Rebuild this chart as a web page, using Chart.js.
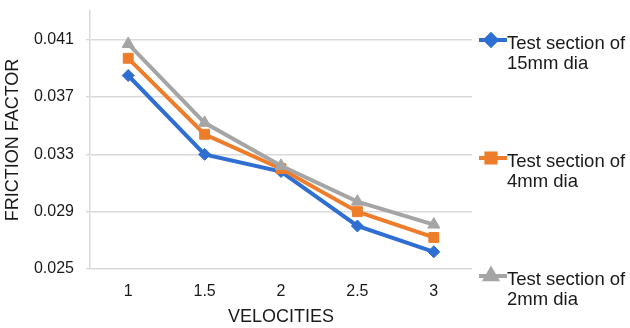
<!DOCTYPE html>
<html>
<head>
<meta charset="utf-8">
<script src="https://cdn.jsdelivr.net/npm/chart.js@4/dist/chart.umd.min.js"></script>
<style>
  html, body { margin: 0; padding: 0; background: #fff; }
  #wrap { width: 630px; height: 328px; position: relative; }
</style>
</head>
<body>
<div id="wrap"><canvas id="c" width="630" height="328"></canvas></div>
<script>
// Velocities on the category axis
const velocities = ['1', '1.5', '2', '2.5', '3'];

// Friction factor per test section
const dia15mm = [0.0385, 0.0330, 0.0318, 0.0280, 0.0262];
const dia4mm  = [0.0397, 0.0344, 0.0320, 0.0290, 0.0272];
const dia2mm  = [0.0407, 0.0352, 0.0322, 0.0297, 0.0281];

// Series names, split over two lines for the side legend
const seriesNames = [
  ['Test section of', '15mm dia'],
  ['Test section of', '4mm dia'],
  ['Test section of', '2mm dia']
];

// Value-axis tick marks
const yTicks = [0.025, 0.029, 0.033, 0.037, 0.041];

const FONT = '"Liberation Sans", Arial, Helvetica, sans-serif';
const GRID = '#d9d9d9';
const TEXT = '#1a1a1a';

const styles = [
  { color: '#2f6fd2', point: 'rectRot',  radius: 6, order: 2 },
  { color: '#ee7d2b', point: 'rect',     radius: 7, order: 1 },
  { color: '#a5a5a5', point: 'triangle', radius: 7, order: 0 }
];

const seriesData = [dia15mm, dia4mm, dia2mm];

const datasets = seriesData.map((d, i) => ({
  label: seriesNames[i].join(' '),
  data: d,
  borderColor: styles[i].color,
  backgroundColor: styles[i].color,
  pointBackgroundColor: styles[i].color,
  pointBorderColor: styles[i].color,
  pointStyle: styles[i].point,
  pointRadius: styles[i].radius,
  pointBorderWidth: 1,
  borderWidth: 4,
  tension: 0,
  order: styles[i].order
}));

// Legend on the right, one entry per series with a line + marker sample
const sideLegend = {
  id: 'sideLegend',
  afterDraw(chart) {
    const ctx = chart.ctx;
    const area = chart.chartArea;
    const x0 = 479, x1 = 507, xm = 491;
    chart.data.datasets.forEach((ds, i) => {
      const y = area.top + 29 + i * 118;
      ctx.save();
      ctx.strokeStyle = ds.borderColor;
      ctx.lineWidth = 4;
      ctx.beginPath();
      ctx.moveTo(x0, y);
      ctx.lineTo(x1, y);
      ctx.stroke();
      ctx.fillStyle = ds.borderColor;
      ctx.strokeStyle = ds.borderColor;
      Chart.helpers.drawPoint(ctx, {
        pointStyle: ds.pointStyle,
        rotation: 0,
        radius: ds.pointRadius - 0.5,
        borderWidth: 1
      }, xm, y);
      ctx.fillStyle = TEXT;
      ctx.font = '18.5px ' + FONT;
      ctx.textAlign = 'left';
      ctx.textBaseline = 'middle';
      seriesNames[i].forEach((line, k) => {
        ctx.fillText(line, x1, y + 4 + k * 20);
      });
      ctx.restore();
    });
  }
};

new Chart(document.getElementById('c'), {
  type: 'line',
  data: { labels: velocities, datasets },
  plugins: [sideLegend],
  options: {
    responsive: false,
    animation: false,
    devicePixelRatio: 1,
    layout: { padding: { top: 11, right: 158, left: 0, bottom: 0 } },
    plugins: {
      legend: { display: false },
      tooltip: { enabled: false }
    },
    scales: {
      x: {
        offset: true,
        grid: { display: false, drawTicks: false },
        border: { display: false },
        ticks: {
          color: TEXT,
          font: { family: FONT, size: 16 },
          padding: 13,
          maxRotation: 0
        },
        title: {
          display: true,
          text: 'VELOCITIES',
          color: TEXT,
          font: { family: FONT, size: 18 },
          padding: { top: 0, bottom: 0 }
        },
        afterFit(scale) {
          scale.height = 59;
          scale.paddingLeft = 0;
          scale.paddingRight = 0;
        }
      },
      y: {
        min: 0.025,
        max: 0.043,
        afterBuildTicks(scale) {
          scale.ticks = yTicks.map(v => ({ value: v }));
        },
        grid: { color: GRID, lineWidth: 1.4, tickLength: 4, drawTicks: true },
        border: { display: true, color: GRID, width: 1.5 },
        ticks: {
          color: TEXT,
          font: { family: FONT, size: 16 },
          padding: 12,
          callback: v => v.toFixed(3)
        },
        title: {
          display: true,
          text: 'FRICTION FACTOR',
          color: TEXT,
          font: { family: FONT, size: 18 },
          padding: { top: 2, bottom: 0 }
        },
        afterFit(scale) {
          scale.width = 90;
          scale.paddingTop = 0;
          scale.paddingBottom = 0;
        }
      }
    }
  }
});
</script>
</body>
</html>
